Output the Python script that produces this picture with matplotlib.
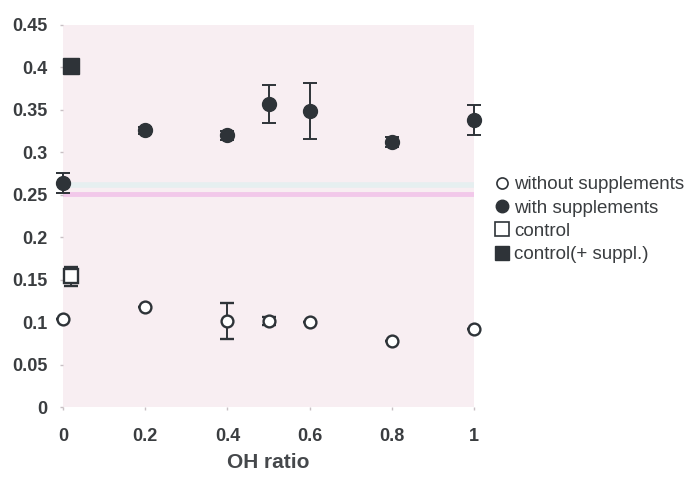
import numpy as np
import matplotlib.pyplot as plt
from matplotlib.lines import Line2D

# OH ratio positions
x_vals = [0, 0.2, 0.4, 0.5, 0.6, 0.8, 1.0]

# with supplements (filled circles)
with_sup = [0.264, 0.326, 0.320, 0.357, 0.349, 0.312, 0.338]
with_err = [0.012, 0.004, 0.005, 0.022, 0.033, 0.006, 0.018]

# without supplements (open circles)
without_sup = [0.104, 0.118, 0.101, 0.101, 0.100, 0.078, 0.092]
without_err = [0.0, 0.0, 0.021, 0.005, 0.0, 0.0, 0.0]

# controls
ctrl_x = [0.02]
ctrl = [0.154]
ctrl_err = [0.011]
ctrl_sup = [0.401]
ctrl_sup_err = [0.006]

dark = "#2e3338"
txt = "#3a3d40"

plt.rcParams['font.family'] = ['Liberation Sans', 'DejaVu Sans']

fig = plt.figure(figsize=(6.87, 4.78), dpi=100)
ax = fig.add_axes([0.0917, 0.1485, 0.5983, 0.7995])
ax.set_facecolor("#f8eef2")

# scan artefacts: faint bands near 0.25
ax.axhline(0.262, color="#e6eff0", lw=4, zorder=0)
ax.axhline(0.251, color="#f2c8ea", lw=3.5, zorder=0)

ax.errorbar(x_vals, with_sup, yerr=with_err, fmt='o', color=dark, ms=10,
            capsize=5, elinewidth=1.4, capthick=1.4, clip_on=False, zorder=3)
ax.errorbar(x_vals, without_sup, yerr=without_err, fmt='o', color=dark, mfc="white",
            mec=dark, mew=1.7, ms=8.5, capsize=5, elinewidth=1.4, capthick=1.4,
            clip_on=False, zorder=3)
ax.errorbar(ctrl_x, ctrl, yerr=ctrl_err, fmt='s', color=dark, mfc="white",
            mec=dark, mew=1.7, ms=9.5, capsize=5, elinewidth=1.4, capthick=1.4,
            clip_on=False, zorder=3)
ax.errorbar(ctrl_x, ctrl_sup, yerr=ctrl_sup_err, fmt='s', color=dark, ms=12,
            capsize=5, elinewidth=1.4, capthick=1.4, clip_on=False, zorder=3)

ax.set_xlim(0, 1)
ax.set_ylim(0, 0.45)
ax.set_xticks([0, 0.2, 0.4, 0.6, 0.8, 1])
ax.set_xticklabels(["0", "0.2", "0.4", "0.6", "0.8", "1"])
ax.set_yticks(np.arange(0, 0.451, 0.05))
ax.set_yticklabels(["0", "0.05", "0.1", "0.15", "0.2", "0.25", "0.3", "0.35", "0.4", "0.45"])
for s in ax.spines.values():
    s.set_visible(False)
ax.tick_params(length=2, width=1, color="#c8c0c4", labelsize=13, labelcolor=txt)
ax.tick_params(axis='x', pad=13)
ax.tick_params(axis='y', pad=9)
for lab in ax.get_xticklabels() + ax.get_yticklabels():
    lab.set_fontweight("bold")
ax.set_xlabel("OH ratio", fontsize=15, fontweight="bold", color="#45484b", labelpad=6)

handles = [
    Line2D([], [], ls='', marker='o', mfc='white', mec=dark, mew=1.2, ms=8),
    Line2D([], [], ls='', marker='o', color=dark, ms=9),
    Line2D([], [], ls='', marker='s', mfc='white', mec=dark, mew=1.2, ms=9.5),
    Line2D([], [], ls='', marker='s', color=dark, ms=9.5),
]
labels = ["without supplements", "with supplements", "control", "control(+ suppl.)"]
fig.legend(handles, labels, loc="upper left", bbox_to_anchor=(0.705, 0.647),
           frameon=False, fontsize=13.5, handletextpad=0.1, handlelength=1.1,
           labelspacing=0.33, borderaxespad=0, labelcolor=txt)

fig.savefig("out.png", dpi=100)
